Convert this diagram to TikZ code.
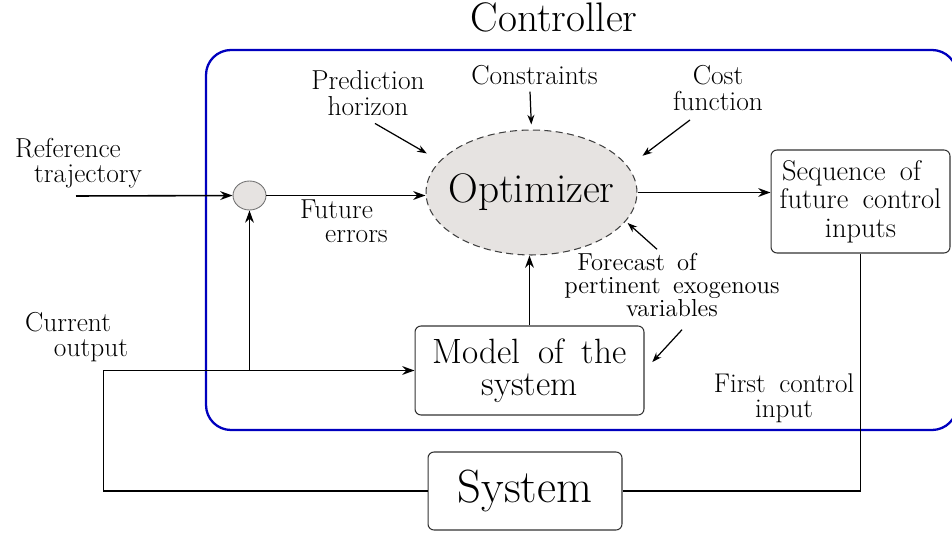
\documentclass[tikz,border=0pt]{standalone}
\usepackage{fontspec}
\usetikzlibrary{shapes.geometric, arrows.meta}
\definecolor{ctrlblue}{RGB}{0,0,190}
\definecolor{optgray}{RGB}{230,227,225}
\newcommand{\fsz}[2]{\fontsize{#1}{#2}\selectfont\spaceskip=0.5em\relax}

\begin{document}
\begin{tikzpicture}[x=0.02cm, y=-0.02cm,
    lbl/.style={font=\fsz{15.6}{14.5}, align=center, inner sep=1pt},
    blk/.style={draw=black!80, line width=0.6pt, rounded corners=0.12cm,
      align=center, inner sep=0pt},
    wire/.style={line width=0.9pt},
    note/.style={line width=0.7pt, -{Stealth[length=5.5pt,width=4pt]}},
    >={Stealth[length=7pt,width=5pt]}]
  \useasboundingbox (0,0) rectangle (952,536);
  % controller frame
  \draw[ctrlblue, line width=1.3pt, rounded corners=0.5cm] (206,50) rectangle (957,430);
  \node[font=\fsz{23.5}{28}, anchor=base] (title) at (554,32) {Controller};

  \node[ellipse, draw=black!75, fill=optgray, line width=0.6pt,
    dash pattern=on 4pt off 2.5pt, minimum width=4.22cm, minimum height=2.5cm,
    inner sep=0pt] (opt) at (531.5,192.5) {};
  \node[font=\fsz{23.5}{28}] (optname) at (opt) {Optimizer};
  \node[ellipse, draw=black!55, fill=optgray, line width=0.5pt,
    minimum width=0.66cm, minimum height=0.58cm, inner sep=0pt] (sum) at (249.5,195.5) {};
  \node[blk, minimum width=3.58cm, minimum height=2.06cm,
    font=\fsz{16.2}{16.2}] (seq) at (860.5,201.5)
    {Sequence of\hspace*{0.36cm}\\future control\\inputs};
  \node[blk, minimum width=4.58cm, minimum height=1.78cm,
    font=\fsz{20}{18.5}] (model) at (529.5,370.5) {Model of the\\system};
  \node[blk, minimum width=3.88cm, minimum height=1.56cm,
    font=\fsz{26.5}{30}] (sys) at (525,491) {System};

  % labels
  \node[lbl] (ref) at (88,163) {Reference\hspace*{0.8cm}\\trajectory};
  \node[lbl] (cur) at (91,337) {Current\hspace*{0.92cm}\\output};
  \node[lbl, font=\fsz{15.6}{13.5}] (err) at (356.5,221) {Future\hspace*{0.8cm}\\errors};
  \node[lbl] (pred) at (368,93) {Prediction\\horizon};
  \node[lbl, anchor=base] (cons) at (534.5,85) {Constraints};
  \node[lbl, font=\fsz{15.6}{15}] (cost) at (718,88) {Cost\\function};
  \node[lbl, font=\fsz{14}{13}] (fore) at (672,285)
    {Forecast of\hspace*{1.4cm}\\pertinent exogenous\\variables};
  \node[lbl, font=\fsz{15.4}{14}] (first) at (784,398.5) {First control\\input};

  % signal paths
  \coordinate (refin) at (76,196);
  \draw[wire,->] (refin) -- (sum);
  \draw[wire,->] (sum) -- (sum -| opt.west);
  \draw[wire,->] (opt) -- (opt -| seq.west);
  \draw[wire,->] (model) -- (model |- opt.south);
  \draw[wire,->] (sys.west) -- ++(-324,0) |- (model.west);
  \draw[wire,->] (sum |- model.west) -- (sum);
  \draw[wire] (seq.south) |- (sys.east);

  % inputs to the optimizer
  \draw[note, shorten >=0.3cm] ([shift={(7,6)}]pred.south) -- (opt.161.5);
  \draw[note, shorten >=0.1cm] ([shift={(-4.5,4)}]cons.south) -- (opt.north);
  \draw[note, shorten >=0.36cm] ([shift={(-28,7)}]cost.south) -- (opt.15);
  \draw[note, shorten >=0.05cm] ([shift={(-15,-2)}]fore.north) -- (opt.-17);
  \draw[note, shorten >=0.23cm] ([shift={(10,11)}]fore.south) -- (model.east);
\end{tikzpicture}
\end{document}
